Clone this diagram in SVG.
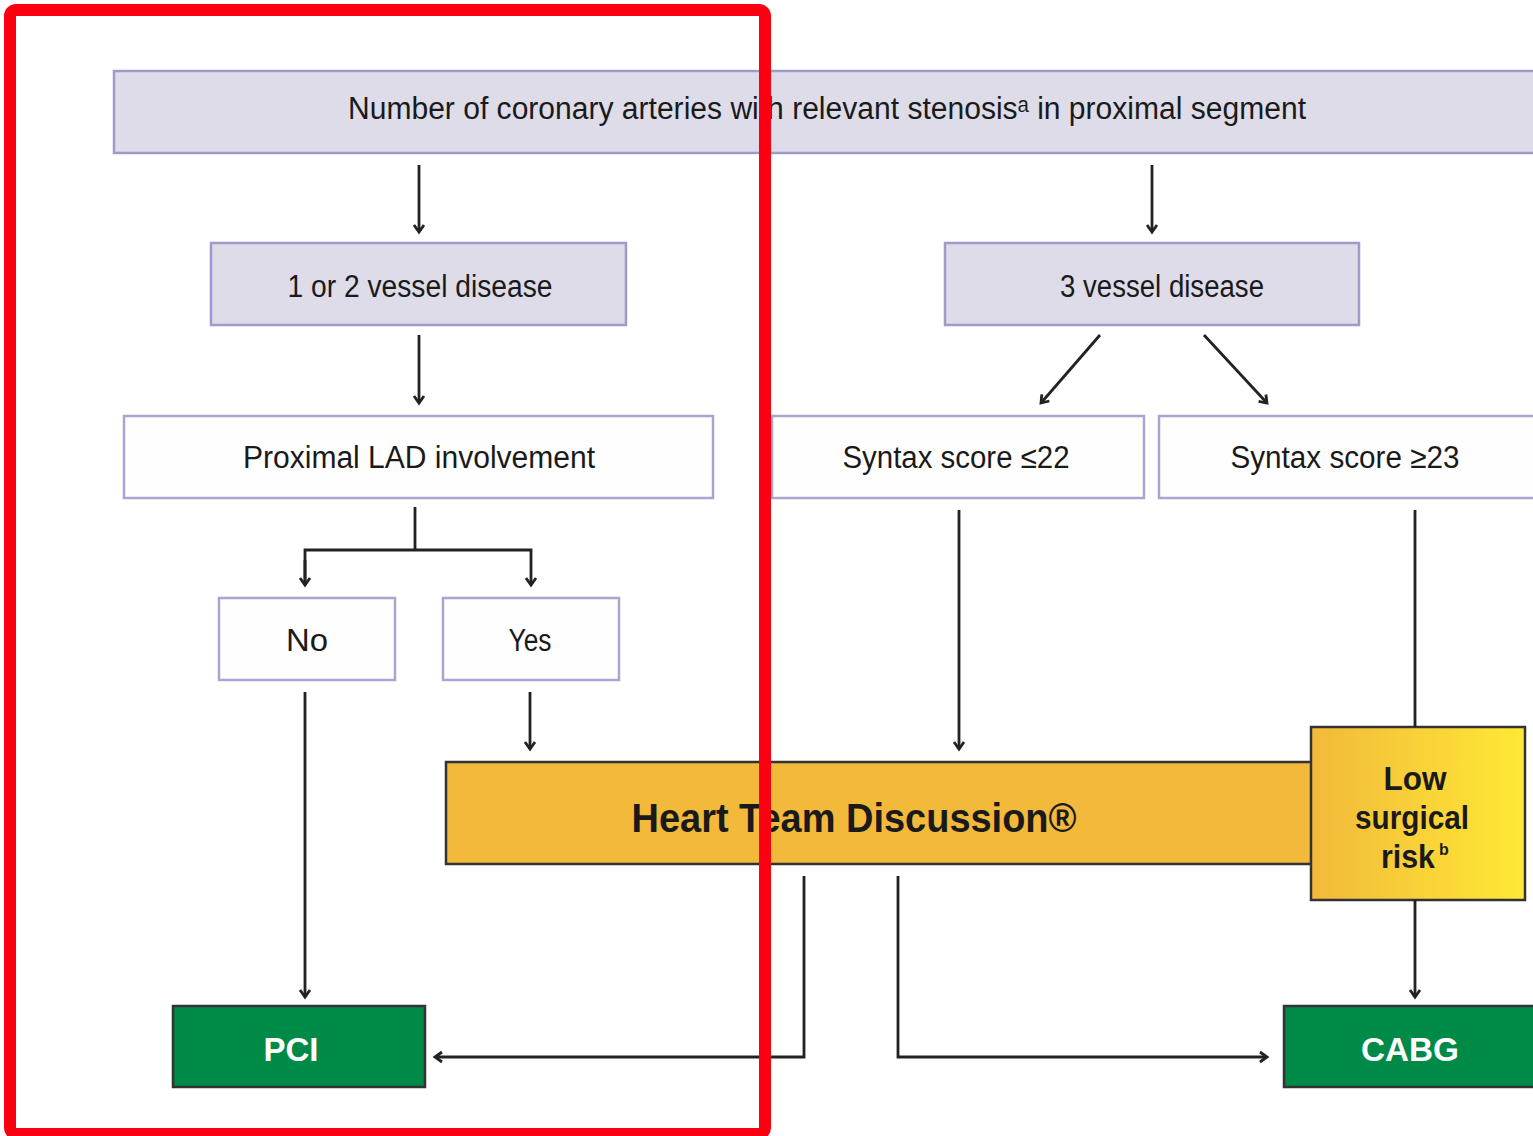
<svg xmlns="http://www.w3.org/2000/svg" width="1533" height="1136" viewBox="0 0 1533 1136">
<defs>
<marker id="arr" markerWidth="14" markerHeight="14" refX="10" refY="7" orient="auto" markerUnits="userSpaceOnUse">
<path d="M3,2 L10,7 L3,12" fill="none" stroke="#222" stroke-width="2.8" stroke-linejoin="miter"/>
</marker>
<linearGradient id="gold" x1="0" y1="0" x2="1" y2="0">
<stop offset="0" stop-color="#f2b93b"/>
<stop offset="1" stop-color="#ffe935"/>
</linearGradient>
<style>
.lav{fill:#dddce8;stroke:#9f9bc9;stroke-width:2.5}
.wht{fill:#fefefe;stroke:#a9a5d0;stroke-width:2.5}
.grn{fill:#008a47;stroke:#333;stroke-width:2.5}
.t{font-family:"Liberation Sans","DejaVu Sans",Arial,sans-serif;font-size:31px;fill:#1a1a1a;text-anchor:middle}
.sup{font-family:"Liberation Sans",Arial,sans-serif;fill:#1a1a1a;text-anchor:start}
.b{font-family:"Liberation Sans",Arial,sans-serif;font-weight:bold;fill:#1a1a1a;text-anchor:middle}
.w{font-family:"Liberation Sans",Arial,sans-serif;font-weight:bold;font-size:34px;fill:#fff;text-anchor:middle}
.c{fill:none;stroke:#222;stroke-width:2.8}
</style>
</defs>
<rect width="1533" height="1136" fill="#fff"/>

<g id="n-top">
<rect class="lav" x="114" y="71" width="1425" height="82"/>
<text class="t" x="827" y="119" textLength="958" lengthAdjust="spacingAndGlyphs">Number of coronary arteries with relevant stenosisᵃ in proximal segment</text>
</g>
<g id="n-12">
<rect class="lav" x="211" y="243" width="415" height="82"/>
<text class="t" x="420" y="297" textLength="265" lengthAdjust="spacingAndGlyphs">1 or 2 vessel disease</text>
</g>
<g id="n-3">
<rect class="lav" x="945" y="243" width="414" height="82"/>
<text class="t" x="1162" y="297" textLength="204" lengthAdjust="spacingAndGlyphs">3 vessel disease</text>
</g>
<g id="n-lad">
<rect class="wht" x="124" y="416" width="589" height="82"/>
<text class="t" x="419" y="468" textLength="352" lengthAdjust="spacingAndGlyphs">Proximal LAD involvement</text>
</g>
<g id="n-s22">
<rect class="wht" x="772" y="416" width="372" height="82"/>
<text class="t" x="956" y="468" textLength="227" lengthAdjust="spacingAndGlyphs">Syntax score ≤22</text>
</g>
<g id="n-s23">
<rect class="wht" x="1159" y="416" width="380" height="82"/>
<text class="t" x="1345" y="468" textLength="229" lengthAdjust="spacingAndGlyphs">Syntax score ≥23</text>
</g>
<g id="n-no">
<rect class="wht" x="219" y="598" width="176" height="82"/>
<text class="t" x="307" y="651" textLength="42" lengthAdjust="spacingAndGlyphs">No</text>
</g>
<g id="n-yes">
<rect class="wht" x="443" y="598" width="176" height="82"/>
<text class="t" x="530" y="651" textLength="43" lengthAdjust="spacingAndGlyphs">Yes</text>
</g>
<g id="n-heart">
<rect x="446" y="762" width="866" height="102" fill="#f2b93b" stroke="#333" stroke-width="2.5"/>
<text class="b" font-size="40" x="854" y="832" textLength="445" lengthAdjust="spacingAndGlyphs">Heart Team Discussion®</text>
</g>
<g id="n-low">
<rect x="1311" y="727" width="214" height="173" fill="url(#gold)" stroke="#333" stroke-width="2.5"/>
<text class="b" font-size="34" x="1415" y="790" textLength="63" lengthAdjust="spacingAndGlyphs">Low</text>
<text class="b" font-size="34" x="1412" y="829" textLength="114" lengthAdjust="spacingAndGlyphs">surgical</text>
<text class="b" font-size="34" x="1408" y="868" textLength="54" lengthAdjust="spacingAndGlyphs">risk</text>
<text class="sup" font-weight="bold" font-size="16" x="1439" y="855">b</text>
</g>
<g id="n-pci">
<rect class="grn" x="173" y="1006" width="252" height="81"/>
<text class="w" x="291" y="1061" textLength="55" lengthAdjust="spacingAndGlyphs">PCI</text>
</g>
<g id="n-cabg">
<rect class="grn" x="1284" y="1006" width="255" height="81"/>
<text class="w" x="1410" y="1061" textLength="98" lengthAdjust="spacingAndGlyphs">CABG</text>
</g>

<g id="connectors">
<line class="c" x1="419" y1="165" x2="419" y2="232" marker-end="url(#arr)"/>
<line class="c" x1="1152" y1="165" x2="1152" y2="232" marker-end="url(#arr)"/>
<line class="c" x1="419" y1="335" x2="419" y2="403" marker-end="url(#arr)"/>
<line class="c" x1="1100" y1="335" x2="1041" y2="403" marker-end="url(#arr)"/>
<line class="c" x1="1204" y1="335" x2="1267" y2="403" marker-end="url(#arr)"/>
<path class="c" d="M415,507 V550"/>
<path class="c" d="M305,585 V550 H531 V585" marker-end="url(#arr)"/>
<line class="c" x1="305" y1="560" x2="305" y2="585" marker-end="url(#arr)"/>
<line class="c" x1="305" y1="692" x2="305" y2="997" marker-end="url(#arr)"/>
<line class="c" x1="530" y1="692" x2="530" y2="749" marker-end="url(#arr)"/>
<line class="c" x1="959" y1="510" x2="959" y2="749" marker-end="url(#arr)"/>
<line class="c" x1="1415" y1="510" x2="1415" y2="727"/>
<line class="c" x1="1415" y1="900" x2="1415" y2="997" marker-end="url(#arr)"/>
<path class="c" d="M804,876 V1057 H435" marker-end="url(#arr)"/>
<path class="c" d="M898,876 V1057 H1267" marker-end="url(#arr)"/>
</g>

<rect x="10" y="10" width="755" height="1124" rx="6" fill="none" stroke="#fa0010" stroke-width="12"/>
</svg>
